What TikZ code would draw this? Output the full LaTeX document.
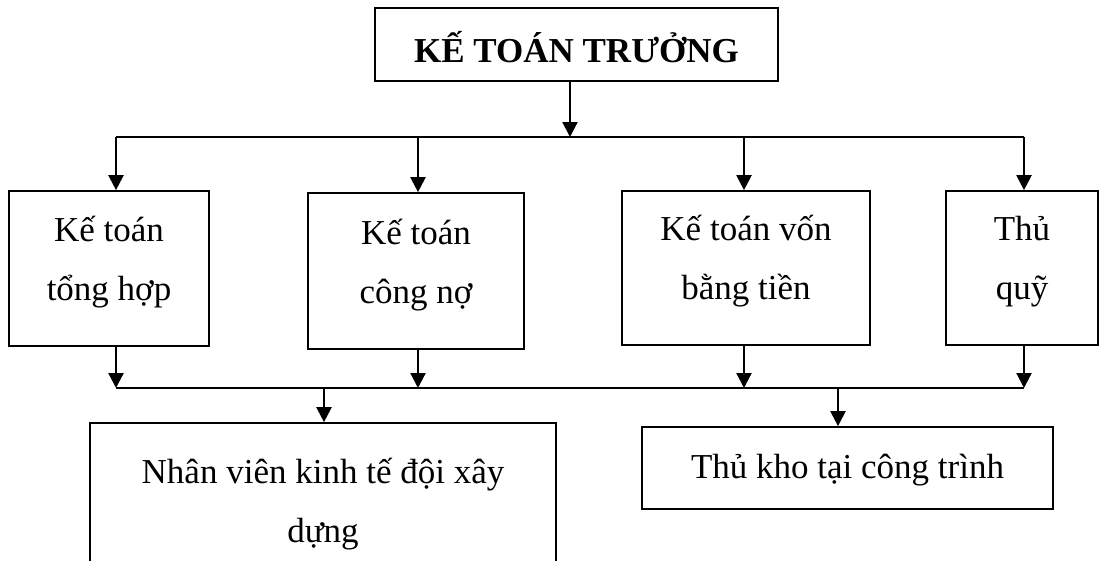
\documentclass[tikz,border=0pt]{standalone}
\usepackage{fontspec}
\setmainfont{Liberation Serif}
\usetikzlibrary{arrows.meta,calc}
\newcommand\tp[1]{\rule{0pt}{#1}}
\newcommand\bt[1]{\rule[-#1]{0pt}{#1}}
\begin{document}
\begin{tikzpicture}[x=1pt,y=-1pt,
  box/.style={draw=black,line width=1.7pt,inner sep=0pt,align=center,
    font=\fontsize{35}{59}\selectfont},
  arr/.style={draw=black,line width=2.2pt,-{Triangle[length=15pt,width=15pt]}},
  bus/.style={draw=black,line width=1.7pt}]
\useasboundingbox[fill=white] (0,0) rectangle (1100,560);

\node[box,minimum width=403pt,minimum height=73pt,font=\fontsize{35}{59}\selectfont\bfseries]
  (top) at (576.5,44.5) {\rule[-4.4pt]{0pt}{44.4pt}KẾ TOÁN TRƯỞNG};
\node[box,minimum width=200pt,minimum height=155pt] (b1) at (109,268.5)
  {\tp{36pt}Kế toán\\tổng hợp\bt{32pt}};
\node[box,minimum width=216pt,minimum height=156pt] (b2) at (416,271)
  {\tp{37pt}Kế toán\\công nợ\bt{32pt}};
\node[box,minimum width=248pt,minimum height=154pt] (b3) at (746,268)
  {\tp{36pt}Kế toán vốn\\bằng tiền\bt{32pt}};
\node[box,minimum width=152pt,minimum height=154pt] (b4) at (1022,268)
  {\tp{36pt}Thủ\\quỹ\bt{32pt}};
\node[box,minimum width=466pt,minimum height=152pt] (nv) at (323,499)
  {\tp{45pt}Nhân viên kinh tế đội xây\\dựng\bt{18pt}};
\node[box,minimum width=411pt,minimum height=82pt] (tk) at (847.5,468)
  {\rule[-16pt]{0pt}{52pt}Thủ kho tại công trình};

% upper bus
\coordinate (t0) at (570,137);
\coordinate (a1) at (116,137);
\coordinate (a2) at (418,137);
\coordinate (a3) at (744,137);
\coordinate (a4) at (1024,137);
% lower bus
\coordinate (c1) at (116,388);
\coordinate (c2) at (418,388);
\coordinate (c3) at (744,388);
\coordinate (c4) at (1024,388);
\coordinate (d1) at (324,388);
\coordinate (d2) at (838,388);

\draw[arr] (t0 |- top.south) -- (t0);
\draw[bus] (a1) -- (a4);
\draw[arr] (a1) -- (a1 |- b1.north);
\draw[arr] (a2) -- (a2 |- b2.north);
\draw[arr] (a3) -- (a3 |- b3.north);
\draw[arr] (a4) -- (a4 |- b4.north);

\draw[bus] (c1) -- (c4);
\draw[arr] (c1 |- b1.south) -- (c1);
\draw[arr] (c2 |- b2.south) -- (c2);
\draw[arr] (c3 |- b3.south) -- (c3);
\draw[arr] (c4 |- b4.south) -- (c4);

\draw[arr] (d1) -- (d1 |- nv.north);
\draw[arr] (d2) -- (d2 |- tk.north);
\end{tikzpicture}
\end{document}
